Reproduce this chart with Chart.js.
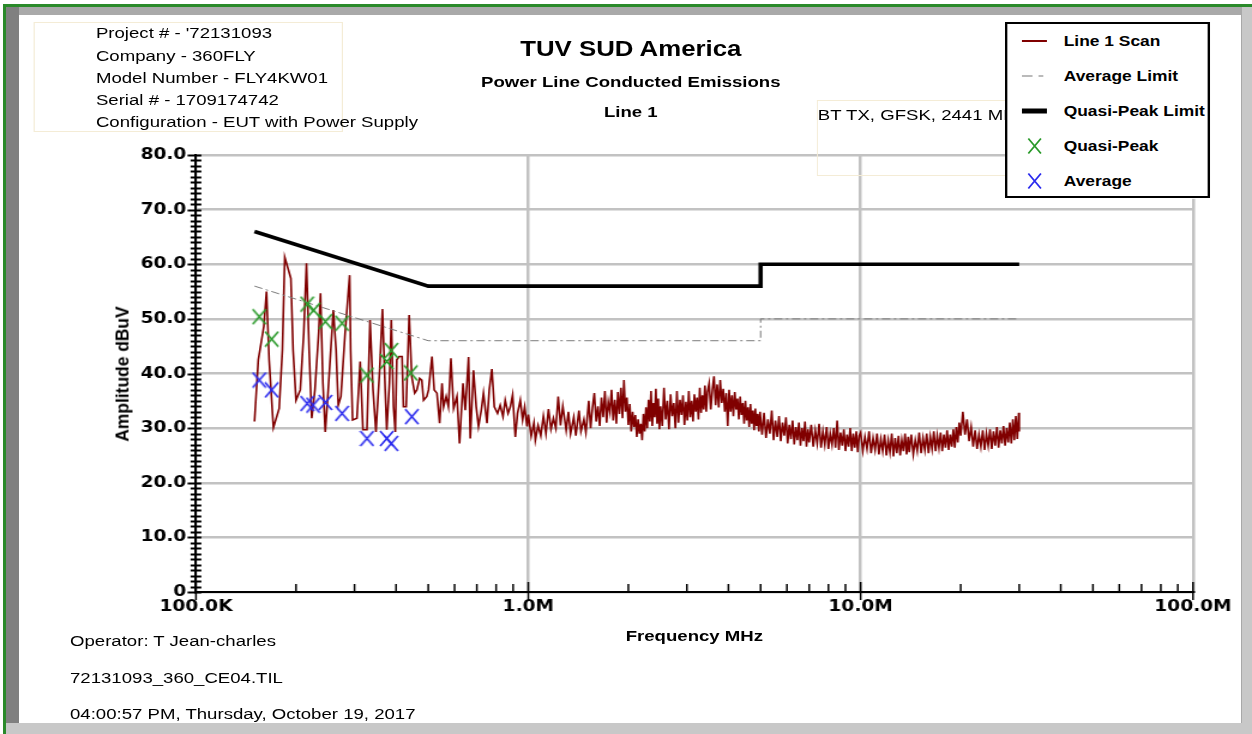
<!DOCTYPE html>
<html lang="en">
<head>
<meta charset="UTF-8">
<title>Power Line Conducted Emissions - Line 1</title>
<script src="https://cdn.jsdelivr.net/npm/chart.js@4"></script>
<style>
  body { margin: 0; background: #fff; overflow: hidden; }
  #page {
    position: absolute; left: 0; top: 0; width: 1044px; height: 734px;
    transform: scaleX(1.19923); transform-origin: 0 0;
    font-family: 'Liberation Sans', Arial, sans-serif; color: #000;
  }
  #chart { position: absolute; left: 0; top: 0; }
  .txt { position: absolute; white-space: nowrap; font-size: 15.5px; line-height: 22px; }
  .b { font-weight: bold; }
  .box { position: absolute; border: 1.5px solid #f4ecd6; box-sizing: border-box; }
  #legend {
    position: absolute; left: 838px; top: 22px; width: 171px; height: 176px;
    border: 2px solid #000; background: #fff; box-sizing: border-box;
  }
  .row { position: absolute; left: 0; height: 20px; width: 167px; }
  .row svg { position: absolute; left: 12px; top: 0; }
  .row span { position: absolute; left: 47px; top: 0; line-height: 20px; font-weight: bold; font-size: 14.5px; white-space: nowrap; }
  .frame { position: absolute; }
</style>
</head>
<body>
<div id="page">
  <canvas id="chart" width="1044" height="734"></canvas>

  <div class="box" style="left:27.5px; top:22px; width:258px; height:110px;"></div>
  <div class="txt" style="left:80px; top:22px;">Project # - '72131093</div>
  <div class="txt" style="left:80px; top:45px;">Company - 360FLY</div>
  <div class="txt" style="left:80px; top:67px;">Model Number - FLY4KW01</div>
  <div class="txt" style="left:80px; top:89px;">Serial # - 1709174742</div>
  <div class="txt" style="left:80px; top:111px;">Configuration - EUT with Power Supply</div>

  <div class="txt b" style="left:326px; width:400px; text-align:center; top:36px; font-size:21.5px; line-height:26px;">TUV SUD America</div>
  <div class="txt b" style="left:326px; width:400px; text-align:center; top:72px; line-height:20px;">Power Line Conducted Emissions</div>
  <div class="txt b" style="left:326px; width:400px; text-align:center; top:102px; line-height:20px;">Line 1</div>

  <div class="box" style="left:681px; top:100px; width:170px; height:76px;"></div>
  <div class="txt" style="left:682px; top:104px;">BT TX, GFSK, 2441 MHz</div>

  <div id="legend">
    <div class="row" style="top:7px;">
      <svg width="22" height="20"><line x1="0" y1="10" x2="21" y2="10" stroke="#800000" stroke-width="2"/></svg>
      <span>Line 1 Scan</span>
    </div>
    <div class="row" style="top:42px;">
      <svg width="22" height="20"><line x1="0" y1="10" x2="21" y2="10" stroke="#777" stroke-width="1" stroke-dasharray="9 5 4 20"/></svg>
      <span>Average Limit</span>
    </div>
    <div class="row" style="top:77px;">
      <svg width="22" height="20"><line x1="0" y1="10" x2="21" y2="10" stroke="#000" stroke-width="5"/></svg>
      <span>Quasi-Peak Limit</span>
    </div>
    <div class="row" style="top:112px;">
      <svg width="22" height="20"><path d="M5.5 2.5 L16 17.5 M16 2.5 L5.5 17.5" stroke="#2a9a2a" stroke-width="1.4" fill="none"/></svg>
      <span>Quasi-Peak</span>
    </div>
    <div class="row" style="top:147px;">
      <svg width="22" height="20"><path d="M5.5 2.5 L16 17.5 M16 2.5 L5.5 17.5" stroke="#2a2aee" stroke-width="1.4" fill="none"/></svg>
      <span>Average</span>
    </div>
  </div>

  <div class="txt b" style="left:102px; top:374px; font-size:15px; line-height:18px; transform:translate(-50%,-50%) rotate(-90deg) scaleX(1.16);">Amplitude dBuV</div>
  <div class="txt b" style="left:379px; width:400px; text-align:center; top:626px; line-height:20px;">Frequency MHz</div>

  <div class="txt" style="left:58.4px; top:630px;">Operator: T Jean-charles</div>
  <div class="txt" style="left:58.4px; top:667px;">72131093_360_CE04.TIL</div>
  <div class="txt" style="left:58.4px; top:703px;">04:00:57 PM, Thursday, October 19, 2017</div>
</div>

<!-- window frame -->
<div class="frame" style="left:3px; top:4px; width:1249px; height:3px; background:#2a8a2a;"></div>
<div class="frame" style="left:3px; top:4px; width:3px; height:730px; background:#2a8a2a;"></div>
<div class="frame" style="left:6px; top:7px; width:1236px; height:8px; background:#a9a9a9;"></div>
<div class="frame" style="left:6px; top:7px; width:13px; height:727px; background:#808080;"></div>
<div class="frame" style="left:1241px; top:7px; width:11px; height:727px; background:#c8c8c8; border-left:1px solid #a8a8a8;"></div>
<div class="frame" style="left:6px; top:723px; width:1246px; height:11px; background:#c8c8c8;"></div>

<script>
// scan trace: [frequency MHz, level dBuV]
const scanTrace = [
  [0.150,31.2],[0.154,42.5],[0.160,48.6],[0.163,55.0],[0.166,42.5],[0.171,30.1],[0.178,33.6],[0.182,44.3],
  [0.185,61.3],[0.193,57.4],[0.196,44.3],[0.200,35.1],[0.206,37.0],[0.211,47.4],[0.215,60.2],[0.219,44.3],
  [0.223,31.8],[0.228,37.0],[0.234,47.4],[0.237,54.7],[0.241,38.2],[0.245,29.3],[0.250,37.0],[0.259,51.6],
  [0.264,44.3],[0.268,34.2],[0.273,35.8],[0.281,47.4],[0.290,58.0],[0.292,44.3],[0.296,31.5],[0.305,31.8],
  [0.312,42.2],[0.318,29.7],[0.327,29.7],[0.334,49.8],[0.341,37.0],[0.348,29.3],[0.357,40.6],[0.364,51.8],
  [0.371,37.0],[0.375,29.7],[0.382,38.2],[0.387,49.8],[0.393,33.9],[0.398,29.3],[0.402,42.5],[0.409,43.1],
  [0.417,43.1],[0.421,33.9],[0.429,33.9],[0.438,50.7],[0.446,39.4],[0.455,36.4],[0.462,37.0],[0.471,39.1],
  [0.478,38.8],[0.484,35.1],[0.495,35.8],[0.501,37.0],[0.513,43.1],[0.521,37.0],[0.531,36.4],[0.541,30.9],
  [0.550,38.2],[0.556,33.9],[0.566,35.8],[0.575,33.9],[0.585,42.8],[0.596,33.6],[0.610,35.8],[0.621,27.2],
  [0.636,38.2],[0.646,33.3],[0.661,43.0],[0.669,28.1],[0.684,40.6],[0.697,33.9],[0.708,30.3],[0.722,33.3],
  [0.733,36.4],[0.751,30.9],[0.763,37.0],[0.777,40.8],[0.790,33.9],[0.808,32.7],[0.823,34.2],[0.839,32.1],
  [0.852,35.1],[0.869,32.7],[0.883,33.9],[0.897,36.1],[0.914,28.4],[0.928,32.7],[0.946,35.1],[0.961,31.5],
  [0.975,33.9],[0.991,30.3],
  [1.00,32.5],[1.02,28.5],[1.04,31.0],[1.05,27.8],[1.07,30.5],[1.09,28.6],[1.11,32.2],[1.13,29.0],
  [1.15,33.5],[1.17,29.8],[1.19,31.8],[1.21,30.0],[1.23,35.8],[1.25,30.5],[1.27,34.0],[1.30,29.6],
  [1.32,33.0],[1.34,29.0],[1.37,32.0],[1.39,28.6],[1.42,33.2],[1.44,29.4],[1.47,31.6],[1.49,29.2],
  [1.50,31.0],[1.52,35.0],[1.54,30.0],[1.56,33.8],[1.58,36.4],[1.60,31.2],[1.62,34.0],[1.64,30.4],
  [1.66,35.6],[1.68,32.0],[1.70,36.8],[1.72,31.0],[1.74,34.8],[1.76,33.0],[1.78,37.0],[1.80,31.4],
  [1.82,35.2],[1.84,30.8],[1.86,36.6],[1.88,32.6],[1.90,37.4],[1.92,31.8],[1.94,38.8],[1.96,33.0],
  [1.98,35.6],[2.00,30.6],[2.02,34.4],[2.04,29.4],[2.06,33.0],[2.08,30.2],[2.10,32.4],[2.12,28.4],
  [2.14,31.6],[2.16,29.0],[2.18,30.8],[2.20,27.8],[2.22,32.6],[2.24,29.4],[2.26,33.8],[2.28,30.0],
  [2.30,35.2],[2.32,31.2],[2.34,36.8],[2.36,30.4],[2.38,34.6],[2.40,32.0],[2.42,37.2],[2.44,30.8],
  [2.46,35.4],[2.48,29.8],
  [2.50,34.0],[2.53,30.4],[2.56,37.4],[2.59,31.6],[2.62,35.0],[2.65,29.8],[2.68,36.2],[2.71,32.2],
  [2.74,34.6],[2.77,30.0],[2.80,36.8],[2.83,31.0],[2.86,35.2],[2.89,32.4],[2.92,36.0],[2.95,30.6],
  [2.98,34.8],[3.01,31.4],[3.04,36.8],[3.07,32.0],[3.10,35.0],[3.13,31.2],[3.16,36.2],[3.19,33.0],
  [3.22,35.6],[3.25,31.6],[3.28,37.4],[3.31,32.8],[3.34,36.0],[3.37,33.4],[3.40,37.8],[3.43,33.0],
  [3.46,36.6],
  [3.50,38.2],[3.54,33.4],[3.58,37.0],[3.62,39.5],[3.66,34.2],[3.70,38.0],[3.74,33.8],[3.78,38.8],
  [3.82,34.6],[3.86,37.2],[3.90,33.0],[3.94,36.4],[3.98,30.4],[4.02,37.0],[4.06,33.0],[4.10,36.0],
  [4.14,32.2],[4.18,36.6],[4.22,33.4],[4.26,35.4],[4.30,31.6],[4.34,35.8],[4.38,32.4],[4.42,34.6],
  [4.46,30.8],[4.50,35.0],[4.54,31.4],[4.58,33.8],[4.62,30.2],[4.66,34.4],[4.70,30.8],[4.74,33.2],
  [4.78,29.6],[4.82,33.6],[4.86,30.4],[4.90,32.6],[4.94,29.4],[4.98,33.0],
  [5.05,28.8],[5.12,32.8],[5.19,28.2],[5.26,31.6],[5.33,29.0],[5.40,33.2],[5.47,27.8],[5.54,31.4],
  [5.61,28.4],[5.68,32.2],[5.75,27.6],[5.82,31.0],[5.89,28.6],[5.96,32.0],[6.03,27.2],[6.10,30.6],
  [6.17,28.0],[6.24,31.4],[6.31,27.0],[6.38,30.2],[6.45,27.8],[6.52,31.0],[6.59,26.8],[6.66,30.0],
  [6.73,27.6],[6.80,31.2],[6.87,26.6],[6.94,29.8],
  [7.0,27.4],[7.1,30.6],[7.2,26.6],[7.3,29.6],[7.4,27.2],[7.5,30.8],[7.6,26.4],[7.7,29.4],
  [7.8,27.0],[7.9,30.2],[8.0,26.2],[8.1,29.0],[8.2,27.0],[8.3,30.0],[8.4,26.4],[8.5,31.4],
  [8.6,26.0],[8.7,29.2],[8.8,26.8],[8.9,29.8],[9.0,25.8],[9.1,28.8],[9.2,26.6],[9.3,30.0],
  [9.4,25.8],[9.5,29.0],[9.6,26.4],[9.7,29.4],[9.8,25.6],[9.9,28.6],
  [10.00,29.2],[10.15,25.8],[10.30,28.4],[10.45,26.2],[10.60,29.4],[10.75,25.4],[10.90,28.2],[11.05,26.0],
  [11.20,29.0],[11.35,25.2],[11.50,28.0],[11.65,25.8],[11.80,28.8],[11.95,25.0],[12.10,27.8],[12.25,25.6],
  [12.40,29.0],[12.55,24.8],[12.70,28.2],[12.85,25.4],[13.00,28.6],[13.15,25.0],[13.30,27.8],[13.45,25.8],
  [13.60,29.0],[13.75,25.2],[13.90,28.4],
  [14.0,25.6],[14.2,28.8],[14.4,25.2],[14.6,27.8],[14.8,25.8],[15.0,29.2],[15.2,25.4],[15.4,28.2],
  [15.6,26.0],[15.8,29.0],[16.0,25.4],[16.2,28.4],[16.4,26.2],[16.6,29.4],[16.8,25.8],[17.0,28.6],
  [17.2,26.4],[17.4,29.2],[17.6,25.8],[17.8,28.8],[18.0,26.4],[18.2,29.6],[18.4,26.0],[18.6,28.8],
  [18.8,26.6],[19.0,29.8],[19.2,26.4],[19.4,30.2],[19.6,27.4],[19.8,31.0],
  [20.0,28.6],[20.3,33.0],[20.6,28.8],[20.9,31.6],[21.2,27.6],[21.5,30.2],[21.8,26.6],[22.1,29.6],
  [22.4,26.2],[22.7,28.8],[23.0,26.6],[23.3,29.6],[23.6,26.0],[23.9,29.0],[24.2,26.8],[24.5,29.8],
  [24.8,26.2],[25.1,29.4],[25.4,26.8],[25.7,30.2],[26.0,26.4],[26.3,29.6],[26.6,27.2],[26.9,30.4],
  [27.2,26.8],[27.5,30.0],[27.8,27.4],[28.1,31.0],[28.4,27.2],[28.7,31.6],[29.0,27.8],[29.3,32.2],
  [29.6,28.0],[29.9,32.8],[30.0,29.4]
];

// limit lines (CISPR class B)
const limitFreq = [0.15, 0.5, 5, 5, 30];
const qpLimit = [66, 56, 56, 60, 60];
const avgLimit = [56, 46, 46, 50, 50];

// final measurements
const qpFreq = [0.155, 0.169, 0.216, 0.226, 0.245, 0.275, 0.327, 0.375, 0.387, 0.443];
const qpLevel = [50.4, 46.3, 52.7, 51.6, 49.5, 49.2, 39.7, 42.2, 44.2, 40.1];
const avgFreq = [0.155, 0.169, 0.216, 0.225, 0.245, 0.275, 0.327, 0.375, 0.387, 0.446];
const avgLevel = [38.8, 37.0, 34.5, 34.2, 34.7, 32.7, 28.1, 28.1, 27.2, 32.1];

// axes
const ampTickValues = [0, 10, 20, 30, 40, 50, 60, 70, 80];
const ampTickLabels = ['0', '10.0', '20.0', '30.0', '40.0', '50.0', '60.0', '70.0', '80.0'];
const freqTickValues = [0.1, 1, 10, 100];
const freqTickLabels = ['100.0K', '1.0M', '10.0M', '100.0M'];
const freqGridTicks = [0.1, 0.2, 0.3, 0.4, 0.5, 0.6, 0.7, 0.8, 0.9,
  1, 2, 3, 4, 5, 6, 7, 8, 9, 10, 20, 30, 40, 50, 60, 70, 80, 90, 100];

const gridGray = '#c2c2c2';
const isDecade = v => freqTickValues.some(t => Math.abs(t - v) < 1e-9);

function makeCross(color) {
  const c = document.createElement('canvas');
  c.width = 13; c.height = 17;
  const g = c.getContext('2d');
  g.strokeStyle = color;
  g.lineWidth = 1.6;
  g.beginPath();
  g.moveTo(1, 1); g.lineTo(12, 16);
  g.moveTo(12, 1); g.lineTo(1, 16);
  g.stroke();
  return c;
}

const pairs = (xs, ys) => xs.map((x, i) => ({ x: x, y: ys[i] }));

// black tick marks crossing the left axis and rising from the bottom axis
const axisTicks = {
  id: 'axisTicks',
  afterDraw(chart) {
    const { ctx, chartArea: a, scales: { x, y } } = chart;
    ctx.save();
    ctx.strokeStyle = '#000';
    ctx.lineWidth = 1.8;
    ctx.beginPath();
    y.ticks.forEach(t => {
      const py = Math.round(y.getPixelForValue(t.value)) + 0.5;
      const major = t.value % 10 === 0;
      ctx.moveTo(a.left - (major ? 7 : 4.5), py);
      ctx.lineTo(a.left + 4.5, py);
    });
    ctx.stroke();
    ctx.lineWidth = 1.5;
    ctx.beginPath();
    x.ticks.forEach(t => {
      const px = x.getPixelForValue(t.value);
      const major = isDecade(t.value);
      ctx.moveTo(px, a.bottom + (major ? 8 : 0));
      ctx.lineTo(px, a.bottom - (major ? 10 : 8));
    });
    ctx.stroke();
    ctx.restore();
  }
};

const tickFont = { family: 'DejaVu Sans', weight: 'bold', size: 15.5 };

new Chart(document.getElementById('chart'), {
  type: 'scatter',
  data: {
    datasets: [
      {
        label: 'Average',
        data: pairs(avgFreq, avgLevel),
        pointStyle: makeCross('#2a2aee'),
        pointRadius: 8
      },
      {
        label: 'Quasi-Peak',
        data: pairs(qpFreq, qpLevel),
        pointStyle: makeCross('#2a9a2a'),
        pointRadius: 8
      },
      {
        label: 'Quasi-Peak Limit',
        data: pairs(limitFreq, qpLimit),
        showLine: true,
        borderColor: '#000',
        borderWidth: 3.6,
        pointRadius: 0
      },
      {
        label: 'Average Limit',
        data: pairs(limitFreq, avgLimit),
        showLine: true,
        borderColor: '#7a7a7a',
        borderWidth: 1,
        borderDash: [7, 3, 2, 3],
        pointRadius: 0
      },
      {
        label: 'Line 1 Scan',
        data: scanTrace.map(([f, v]) => ({ x: f, y: v })),
        showLine: true,
        borderColor: '#800000',
        borderWidth: 1.6,
        pointRadius: 0
      }
    ]
  },
  options: {
    responsive: false,
    animation: false,
    devicePixelRatio: 1,
    events: [],
    layout: { padding: { left: 0, top: 155, right: 49.2, bottom: 102 } },
    plugins: { legend: { display: false }, tooltip: { enabled: false } },
    scales: {
      x: {
        type: 'logarithmic',
        min: 0.1,
        max: 100,
        afterBuildTicks: s => { s.ticks = freqGridTicks.map(v => ({ value: v })); },
        afterFit: s => { s.height = 40; },
        ticks: {
          autoSkip: false,
          maxRotation: 0,
          padding: 6,
          color: '#000',
          font: tickFont,
          callback: v => {
            const i = freqTickValues.findIndex(t => Math.abs(t - v) < 1e-9);
            return i >= 0 ? freqTickLabels[i] : '';
          }
        },
        grid: {
          color: c => isDecade(c.tick.value) ? gridGray : 'rgba(0,0,0,0)',
          lineWidth: 2.5,
          drawTicks: false
        },
        border: { color: '#000', width: 2 }
      },
      y: {
        min: 0,
        max: 80,
        afterFit: s => { s.width = 163.4; },
        ticks: {
          stepSize: 1,
          autoSkip: false,
          padding: 8,
          color: '#000',
          font: tickFont,
          callback: v => {
            const i = ampTickValues.indexOf(v);
            return i >= 0 ? ampTickLabels[i] : '';
          }
        },
        grid: {
          color: c => c.tick.value % 10 === 0 ? gridGray : 'rgba(0,0,0,0)',
          lineWidth: 2.5,
          drawTicks: false
        },
        border: { color: '#000', width: 2 }
      }
    }
  },
  plugins: [axisTicks]
});
</script>
</body>
</html>
